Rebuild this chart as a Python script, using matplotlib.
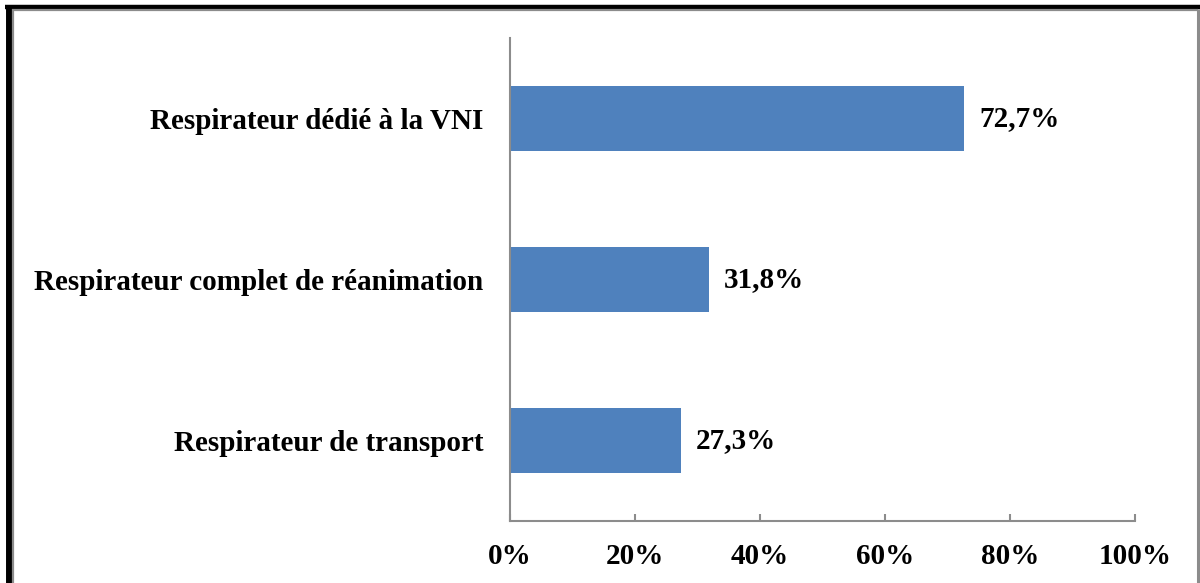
import matplotlib.pyplot as plt
from matplotlib.lines import Line2D

categories = ['Respirateur de transport',
              'Respirateur complet de réanimation',
              'Respirateur dédié à la VNI']
values = [27.3, 31.8, 72.7]
value_labels = ['27,3%', '31,8%', '72,7%']
xticks = [0, 20, 40, 60, 80, 100]
xtick_labels = ['0%', '20%', '40%', '60%', '80%', '100%']

plt.rcParams['font.family'] = ['Liberation Serif', 'DejaVu Serif']
plt.rcParams['font.weight'] = 'bold'

fig = plt.figure(figsize=(12, 5.83), dpi=100)
ax = fig.add_axes([0.425, 0.1063, 0.5208, 0.8285])

ypos = range(len(categories))
ax.barh(ypos, values, height=0.4, color='#4F81BD')

for y, v, lab in zip(ypos, values, value_labels):
    ax.annotate(lab, (v, y), xytext=(11, 0), textcoords='offset points',
                va='center', ha='left', fontsize=21, fontweight='bold')

ax.set_xlim(0, 100)
ax.set_ylim(-0.5, 2.5)
ax.set_xticks(xticks)
ax.set_xticklabels(xtick_labels, fontsize=21, fontweight='bold')
ax.set_yticks(list(ypos))
ax.set_yticklabels(categories, fontsize=21, fontweight='bold')

ax.tick_params(axis='x', direction='in', length=5, width=1.5, color='#8C8C8C', pad=16)
ax.tick_params(axis='y', length=0, pad=19)

for side in ['top', 'right']:
    ax.spines[side].set_visible(False)
for side in ['left', 'bottom']:
    ax.spines[side].set_color('#8C8C8C')
    ax.spines[side].set_linewidth(1.5)

# frame around the figure (black top/left, gray inner line)
W, H = 1200.0, 583.0
def px(x0, y0, x1, y1, color, lw):
    fig.add_artist(Line2D([x0 / W, x1 / W], [1 - y0 / H, 1 - y1 / H],
                          transform=fig.transFigure, color=color, linewidth=lw,
                          solid_capstyle='butt'))

px(5, 7, 1200, 7, 'black', 3.2)
px(8.5, 5, 8.5, 583, 'black', 5.0)
px(12, 9.8, 1198, 9.8, '#8C8C8C', 1.6)
px(13, 9, 13, 583, '#8C8C8C', 1.6)
px(1197.5, 9, 1197.5, 583, '#8C8C8C', 2.2)

fig.savefig('out.png', dpi=100)
